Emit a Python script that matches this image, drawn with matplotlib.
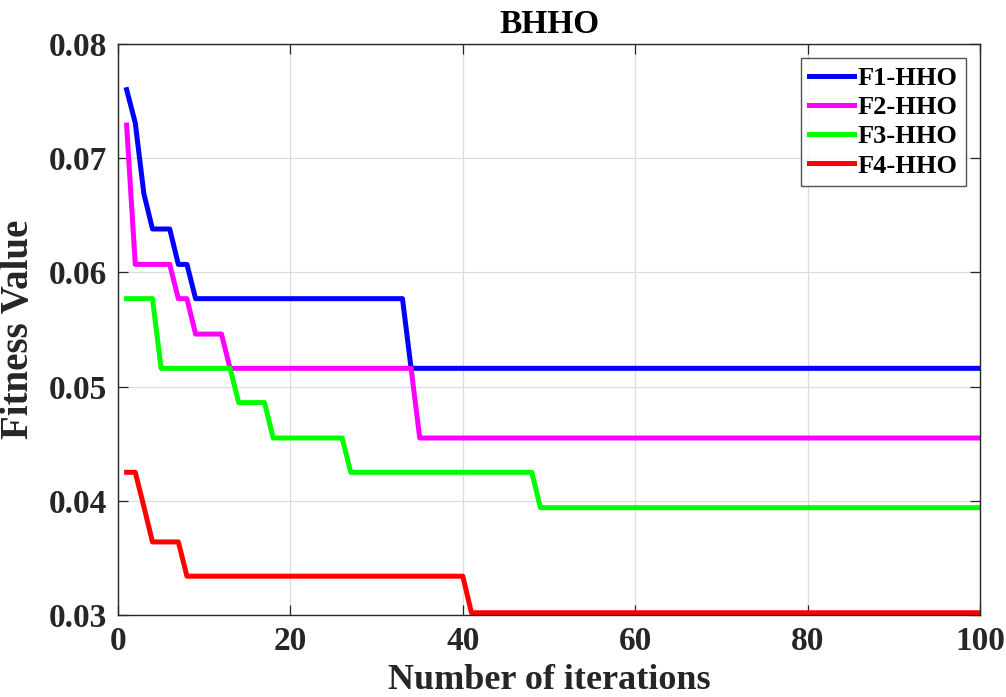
import matplotlib
matplotlib.use("Agg")
import matplotlib.pyplot as plt
import numpy as np

# iteration numbers 1..100
iters = np.arange(1, 101)

# fitness values (value at start of each plateau)
f1_steps = [(1, 0.0760), (2, 0.0731), (3, 0.0669), (4, 0.0638), (7, 0.0607),
            (9, 0.0577), (34, 0.0516)]
f2_steps = [(1, 0.0729), (2, 0.0607), (7, 0.0577), (9, 0.0546), (13, 0.0516),
            (35, 0.0455)]
f3_steps = [(1, 0.0577), (5, 0.0516), (14, 0.0486), (18, 0.0455), (27, 0.0425),
            (49, 0.0394)]
f4_steps = [(1, 0.0425), (3, 0.0395), (4, 0.0364), (8, 0.0334), (41, 0.0302)]

labels = ['F1-HHO', 'F2-HHO', 'F3-HHO', 'F4-HHO']
colors = ['#0000ff', '#ff00ff', '#00ff00', '#ff0000']


def expand(steps):
    vals = np.zeros(len(iters))
    for it, v in steps:
        vals[iters >= it] = v
    return vals


plt.rcParams['font.family'] = ['Liberation Serif', 'DejaVu Serif']
plt.rcParams['font.weight'] = 'bold'
txt = '#262626'

fig = plt.figure(figsize=(10.06, 6.97), dpi=100)
ax = fig.add_axes([0.1173, 0.1176, 0.8569, 0.8193])

for steps, lab, col in zip([f1_steps, f2_steps, f3_steps, f4_steps], labels, colors):
    ax.plot(iters, expand(steps), color=col, lw=3.6, label=lab)

ax.set_xlim(0, 100)
ax.set_ylim(0.03, 0.08)
ax.set_xticks([0, 20, 40, 60, 80, 100])
ax.set_yticks([0.03, 0.04, 0.05, 0.06, 0.07, 0.08])
ax.set_yticklabels(['0.03', '0.04', '0.05', '0.06', '0.07', '0.08'])
ax.grid(True, color='#dcdcdc', lw=0.9)
ax.set_axisbelow(True)
ax.tick_params(direction='in', top=True, right=True, length=7, width=0.9,
               labelsize=24, colors=txt, pad=8)
for sp in ax.spines.values():
    sp.set_color(txt)
    sp.set_linewidth(1.0)

ax.set_title('BHHO', fontsize=24, fontweight='bold', color='black', pad=8)
ax.set_xlabel('Number of iterations', fontsize=26, fontweight='bold', color=txt, labelpad=5)
ax.set_ylabel('Fitness Value', fontsize=28, fontweight='bold', color=txt, labelpad=8)

leg = ax.legend(loc='upper right', fontsize=19, frameon=True, fancybox=False,
                edgecolor=txt, handlelength=1.7, handletextpad=0.15,
                labelspacing=0.22, borderpad=0.3, borderaxespad=0.55)
leg.get_frame().set_linewidth(1.0)

fig.savefig('out.png', dpi=100)
